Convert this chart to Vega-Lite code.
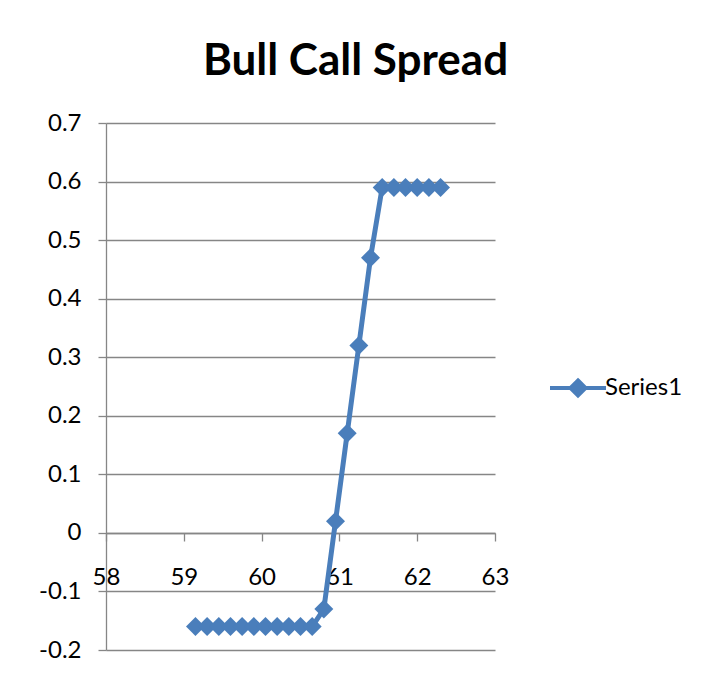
{
  "$schema": "https://vega.github.io/schema/vega-lite/v6.json",
  "width": 389,
  "height": 527,
  "autosize": "none",
  "padding": {"left": 106, "top": 123, "right": 212, "bottom": 23},
  "background": "white",
  "config": {"view": {"stroke": null}},
  "title": {
    "text": "Bull Call Spread",
    "font": "Lato",
    "fontSize": 44,
    "fontWeight": "bold",
    "color": "black",
    "anchor": "middle",
    "frame": "group",
    "baseline": "alphabetic",
    "dx": 55,
    "dy": 45,
    "offset": 37
  },
  "data": {
    "values": [
      {"price": 59.15, "profit": -0.16},
      {"price": 59.3, "profit": -0.16},
      {"price": 59.45, "profit": -0.16},
      {"price": 59.6, "profit": -0.16},
      {"price": 59.75, "profit": -0.16},
      {"price": 59.9, "profit": -0.16},
      {"price": 60.05, "profit": -0.16},
      {"price": 60.2, "profit": -0.16},
      {"price": 60.35, "profit": -0.16},
      {"price": 60.5, "profit": -0.16},
      {"price": 60.65, "profit": -0.16},
      {"price": 60.8, "profit": -0.13},
      {"price": 60.95, "profit": 0.02},
      {"price": 61.1, "profit": 0.17},
      {"price": 61.25, "profit": 0.32},
      {"price": 61.4, "profit": 0.47},
      {"price": 61.55, "profit": 0.59},
      {"price": 61.7, "profit": 0.59},
      {"price": 61.85, "profit": 0.59},
      {"price": 62.0, "profit": 0.59},
      {"price": 62.15, "profit": 0.59},
      {"price": 62.3, "profit": 0.59}
    ]
  },
  "encoding": {
    "x": {
      "field": "price",
      "type": "quantitative",
      "scale": {"domain": [58, 63], "nice": false, "zero": false},
      "axis": {
        "values": [58, 59, 60, 61, 62, 63],
        "grid": false,
        "offset": -117,
        "title": null,
        "domainColor": "#868686",
        "domainWidth": 1.3,
        "tickColor": "#868686",
        "tickWidth": 1.3,
        "tickSize": 8,
        "labelFlush": false,
        "labelOverlap": false,
        "labelBaseline": "alphabetic",
        "labelPadding": 43,
        "labelFont": "Lato",
        "labelFontSize": 24,
        "labelColor": "black"
      }
    },
    "y": {
      "field": "profit",
      "type": "quantitative",
      "scale": {"domain": [-0.2, 0.7], "nice": false, "zero": false},
      "axis": {
        "values": [-0.2, -0.1, 0, 0.1, 0.2, 0.3, 0.4, 0.5, 0.6, 0.7],
        "labelExpr": "datum.value == 0 ? '0' : toString(round(datum.value * 10) / 10)",
        "grid": true,
        "gridColor": "#868686",
        "gridWidth": 1.3,
        "title": null,
        "domainColor": "#868686",
        "domainWidth": 1.3,
        "tickColor": "#868686",
        "tickWidth": 1.3,
        "tickSize": 8,
        "labelFlush": false,
        "labelOverlap": false,
        "labelPadding": 17,
        "labelFont": "Lato",
        "labelFontSize": 24,
        "labelColor": "black"
      }
    }
  },
  "layer": [
    {
      "mark": {"type": "line", "strokeWidth": 5},
      "encoding": {
        "color": {
          "datum": "Series1",
          "scale": {"range": ["#4A7EBB"]},
          "legend": {
            "title": null,
            "orient": "none",
            "legendX": 460,
            "legendY": 253,
            "symbolType": "M-2.8,0H2.8M0,-0.75L0.75,0L0,0.75L-0.75,0Z",
            "symbolSize": 400,
            "symbolStrokeWidth": 4,
            "symbolFillColor": "#4A7EBB",
            "symbolStrokeColor": "#4A7EBB",
            "labelFont": "Lato",
            "labelFontSize": 24,
            "labelColor": "black",
            "labelOffset": 15
          }
        }
      }
    },
    {
      "mark": {"type": "point", "shape": "diamond", "filled": true, "size": 360, "opacity": 1, "color": "#4A7EBB"}
    }
  ]
}
